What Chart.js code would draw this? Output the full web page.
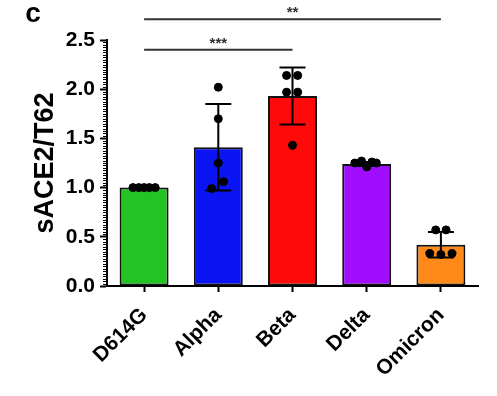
<!DOCTYPE html>
<html>
<head>
<meta charset="utf-8">
<script src="https://cdn.jsdelivr.net/npm/chart.js@4.4.1/dist/chart.umd.min.js"></script>
<style>
  html, body { margin: 0; padding: 0; background: #fff; }
  #wrap { width: 497px; height: 396px; }
</style>
</head>
<body>
<div id="wrap"><canvas id="ace2Chart"></canvas></div>
<script>
// datos
const variants = ['D614G', 'Alpha', 'Beta', 'Delta', 'Omicron'];
const means = [1.00, 1.41, 1.93, 1.24, 0.42];
const sds = [0.00, 0.44, 0.29, 0.02, 0.13];
const barColors = ['#22c322', '#0b14f2', '#ff0a0a', '#a10dff', '#ff8a1a'];

// puntos individuales: posicion (indice + desplazamiento) y valor
const dotX = [
  -0.15, -0.07, 0, 0.07, 0.15,
  1, 1, 1, 1.07, 0.91,
  1.92, 2.07, 1.92, 2.07, 2,
  2.84, 2.93, 3, 3.07, 3.13,
  3.93, 4.07, 3.85, 4, 4.15
];
const dotY = [
  1.00, 1.00, 1.00, 1.00, 1.00,
  2.02, 1.70, 1.25, 1.06, 0.99,
  2.14, 2.14, 1.97, 1.97, 1.43,
  1.25, 1.27, 1.21, 1.26, 1.25,
  0.57, 0.57, 0.33, 0.32, 0.33
];

// comparaciones significativas
const sigFrom = [0, 0];
const sigTo = [2, 4];
const sigLevel = [2.40, 2.71];
const sigText = ['***', '**'];

const yTicks = [0, 0.5, 1.0, 1.5, 2.0, 2.5];

const fontName = "'Liberation Sans', Arial, sans-serif";

// barras de error, ticks menores, corchetes y letra del panel
const extras = {
  id: 'extras',
  afterDatasetDraw(chart, args) {
    if (args.index !== 0) return;
    const ctx = chart.ctx;
    const x = chart.scales.x;
    const y = chart.scales.y;
    ctx.save();
    ctx.strokeStyle = '#000';
    ctx.lineWidth = 2;
    means.forEach((m, i) => {
      if (!sds[i]) return;
      const px = x.getPixelForValue(i);
      const top = y.getPixelForValue(m + sds[i]);
      const bot = y.getPixelForValue(m - sds[i]);
      ctx.beginPath();
      ctx.moveTo(px, top); ctx.lineTo(px, bot);
      ctx.moveTo(px - 13, top); ctx.lineTo(px + 13, top);
      ctx.moveTo(px - 13, bot); ctx.lineTo(px + 13, bot);
      ctx.stroke();
    });
    ctx.restore();
  },
  afterDraw(chart) {
    const ctx = chart.ctx;
    const x = chart.scales.x;
    const y = chart.scales.y;
    const left = chart.chartArea.left;
    ctx.save();
    // ticks menores del eje y
    ctx.strokeStyle = '#000';
    ctx.lineWidth = 1;
    for (let i = 0; i <= 100; i++) {
      if (i % 20 === 0) continue;
      const py = Math.round(y.getPixelForValue(i * 0.025)) + 0.5;
      ctx.beginPath();
      ctx.moveTo(left - 4, py);
      ctx.lineTo(left, py);
      ctx.stroke();
    }
    // corchetes de significancia
    ctx.strokeStyle = '#333';
    ctx.fillStyle = '#333';
    ctx.lineWidth = 2;
    ctx.font = 'bold 15px ' + fontName;
    ctx.textAlign = 'center';
    ctx.textBaseline = 'middle';
    sigFrom.forEach((f, i) => {
      const x1 = x.getPixelForValue(f);
      const x2 = x.getPixelForValue(sigTo[i]);
      const py = y.getPixelForValue(sigLevel[i]);
      ctx.beginPath();
      ctx.moveTo(x1, py); ctx.lineTo(x2, py);
      ctx.stroke();
      ctx.fillText(sigText[i], (x1 + x2) / 2, py - 6);
    });
    // letra del panel
    ctx.fillStyle = '#000';
    ctx.font = 'bold 28px ' + fontName;
    ctx.textAlign = 'center';
    ctx.fillText('c', 33, 14);
    ctx.restore();
  }
};

const ctx = document.getElementById('ace2Chart').getContext('2d');
new Chart(ctx, {
  type: 'bar',
  data: {
    labels: variants,
    datasets: [
      {
        type: 'bar',
        data: means,
        backgroundColor: barColors,
        borderColor: '#111',
        borderWidth: 2,
        borderSkipped: false,
        grouped: false,
        categoryPercentage: 1,
        barPercentage: 0.66,
        order: 2
      },
      {
        type: 'scatter',
        xAxisID: 'xs',
        data: dotX.map((v, i) => ({ x: v, y: dotY[i] })),
        backgroundColor: '#000',
        borderColor: '#000',
        pointRadius: 4,
        order: 1
      }
    ]
  },
  options: {
    responsive: true,
    maintainAspectRatio: false,
    animation: false,
    layout: { padding: { top: 40, right: 19, left: 0, bottom: 0 } },
    plugins: {
      legend: { display: false },
      tooltip: { enabled: false }
    },
    scales: {
      x: {
        offset: true,
        afterFit: s => { s.height = 110; },
        grid: { offset: false, drawOnChartArea: false, color: '#000', tickLength: 6, tickWidth: 2 },
        border: { color: '#000', width: 2 },
        ticks: {
          color: '#000',
          font: { family: fontName, size: 21, weight: 'bold' },
          minRotation: 45,
          maxRotation: 45,
          autoSkip: false,
          padding: 11
        }
      },
      xs: {
        type: 'linear',
        display: false,
        offset: false,
        min: -0.5,
        max: 4.5
      },
      y: {
        min: 0,
        max: 2.5,
        afterFit: s => { s.width = 107; },
        afterBuildTicks: s => { s.ticks = yTicks.map(v => ({ value: v })); },
        grid: { drawOnChartArea: false, color: '#000', tickLength: 7, tickWidth: 2 },
        border: { color: '#000', width: 2 },
        ticks: {
          color: '#000',
          font: { family: fontName, size: 21, weight: 'bold' },
          padding: 5,
          callback: v => v.toFixed(1)
        },
        title: {
          display: true,
          text: 'sACE2/T62',
          color: '#000',
          font: { family: fontName, size: 27, weight: 'bold' },
          padding: { top: 29, bottom: 0 }
        }
      }
    }
  },
  plugins: [extras]
});
</script>
</body>
</html>
